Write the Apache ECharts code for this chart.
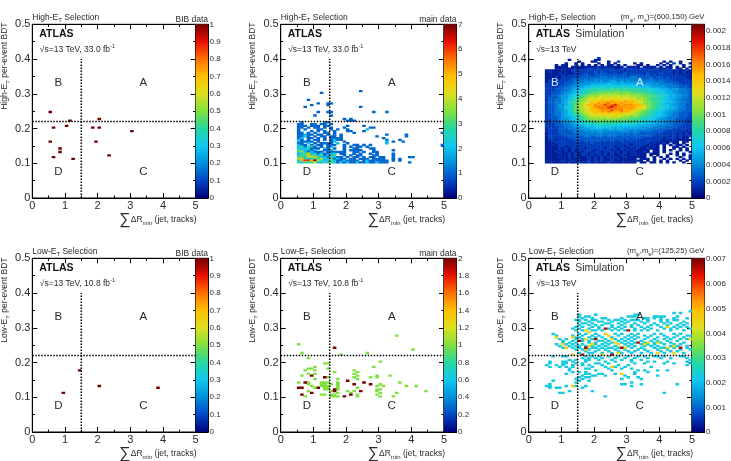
<!DOCTYPE html>
<html><head><meta charset="utf-8">
<script src="https://cdn.jsdelivr.net/npm/echarts@6/dist/echarts.min.js"></script>
<style>html,body{margin:0;padding:0;background:#fff}#c{width:731px;height:461px;filter:blur(.35px)}</style></head>
<body><div id="c"></div>
<script>
// ---------- data (x bins are 0.1 wide starting at 0.5, y bins 0.005 wide) ----------
const bibHigh = [[.55,.2475],[.65,.2025],[.55,.1625],[.85,.1425],[.85,.1325],[.65,.1175],[1.05,.2075],[1.15,.2225],[1.25,.1125],[1.85,.2025],[2.05,.2025],[2.05,.2275],[1.95,.1625],[2.35,.1225],[3.05,.1925]];
const bibLow = [[.95,.1125],[1.45,.1775],[2.05,.1325],[3.85,.1275]];

const mainHighRows = [
[.3075,"..... ..... ..... ....1"],
[.3025,"..... ..1"],
[.2825,"...1"],
[.2725,"..... .1..1 1"],
[.2675,"....1 ....1"],
[.2625,"..1.. ..... ..... ....1"],
[.2475,"..... .1..1 1.... ..... ...1. ..1"],
[.2375,"..... 1.... 1"],
[.2275,"..... ..... ....1 .1"],
[.2225,"..... ..... ..... 111"],
[.2175,".1... ...11"],
[.2125,"11..1 1.11. 1"],
[.2075,"111.1 11.11 ..... 1.... 1"],
[.2025,"11.1. 11.1. 1...1 ..... ..11"],
[.1975,"1.1.. .11.. 1.1.. 1.... .2"],
[.1925,"1...1 .1.1. .1... 11... 1"],
[.1875,"11.1. 1..11 .1... ..1.. ..... ..... ..... ..... ....1"],
[.1825,"11211 .11.1 .1.1. ..... ..... ..1.. ...1."],
[.1775,"1121. 1.11. 11.1. ..... ....1 ..... ...1."],
[.1725,"12.11 .1.1. 1111. ..... ..... .1"],
[.1675,"21.1. 11.1. 1211. ..... ..... ..1.. .1"],
[.1625,"21111 .1... 12..1 ..... ..... ..2.1 ..1"],
[.1575,"11.2. 1.111 1.2.. 1.... ..... ..2"],
[.1525,"211.1 .11.1 11..1 ..11. 1.1.. ..... ..... ..... ....1"],
[.1475,"23123 1.1.1 2...1 .1.11 .1"],
[.1425,"22231 11.21 .1..1 ..11. ..11"],
[.1375,"32221 2..11 2...1 .1111 ...1. ....1"],
[.1325,"34212 111.1 11111 ..11. 1..11"],
[.1275,"22342 21211 22.11 ..1.1 ..1.1 ....1"],
[.1225,"23353 32312 23..1 .1.11 ...11 ....1"],
[.1175,"33244 53221 3211. 1.11. 1.11. 11..1 ....1 1"],
[.1125,"45322 33422 31211 .11.1 11.11 11..1 .1"],
[.1075,"25665 74322 32112 1111. 12111 111.1 .1"],
[.1025,"32333 42232 32121 21121 12112 111.. ....1"]
];

const sigHighRows = [
[.4025,"................2"],
[.3975,".......1.......11"],
[.3925,"..........1...11...1..2.............1.1..1"],
[.3875,"......1..1.1....1..1.1.....1.1.....1.1.2.1..1"],
[.3825,"...1.11..2.1.1.1.1.11.1.1...11.1..1.1.1...1.."],
[.3775,"...1111.1121111121211111.1111.1111.1.11.1.1.1."],
[.3725,"...111111211122221222112222212211221121.11.1.1"],
[.3675,"11111111222222222222222212222222222122212112111"],
[.3625,"12111111222222232322222222222222222222212121111"],
[.3575,"11112121122232232332232232322223222322212121111"],
[.3525,"11111212222333233333333332333323232222222212111"],
[.3475,"11121222223333333443343333443333323323222221111"],
[.3425,"11121222333343444444444444444433433333222222121"],
[.3375,"12122223344444454545554545444544443433322222211"],
[.3325,"12122233344455555555665655555554544443333222221"],
[.3275,"22222233445555666667666666666656555444433322221"],
[.3225,"22222334455566777787777777776666655554444333222"],
[.3175,"22223344556677888888988898888777666555444333222"],
[.3125,"22233344566788999999a9a9a99a9988877666555443332"],
[.3075,"22233445667899a9aabaabbabaa9a9a9888776655444332"],
[.3025,"22333455678899abbbbcbccbbcbbaaa9988776655444333"],
[.2975,"223344567799abcbccddcdcccdcbcbbaa99887665544333"],
[.2925,"22334556789abcdcdeddedededddccbbaa9887665544333"],
[.2875,"23334557899bcdedefeefefeeedecdcbaa9987665544333"],
[.2825,"233445678abcdefefgfffgfefefeddcba99877655443333"],
[.2775,"233445689abcdefgghghihhgihhgfedcbaa987765544333"],
[.2725,"233445689acdefhgihijhihihhhgfecbba9876655443332"],
[.2675,"233455689bcdfhgihikijlihiiihhgdcba9877655443332"],
[.2625,"233455789bcdefhijiikmjiiihhhgfecba9987665543332"],
[.2575,"233455789bcdefghijikjjiihiihffecba9887665443333"],
[.2525,"233445689bcdefhghiihkiijhhhgfdcba98876655443332"],
[.2475,"233445689abceefhhihjihhihhfedcba998766554433332"],
[.2425,"233445678abcdefgfgggfgfgfeedcbba987765544333222"],
[.2375,"22344567899bcdeefffefffedecdcba9987766544333222"],
[.2325,"23334566789abcdddedeededccbcba99887665444333222"],
[.2275,"22334556789abccdcccdcdcbcbbaa988776554443332222"],
[.2225,"223345567889aabbcbbcbbbbaaa9a988776655443332222"],
[.2175,"2233345567789a9aabaaaaa9a9a98887766555443332222"],
[.2125,"22233445567788899999989888887776665554433332222"],
[.2075,"22233344556677788878887777776666555444433322222"],
[.2025,"22223344455566677777667666666555544443333222222"],
[.1975,"12223334445555666656656655555554444333322222211"],
[.1925,"22223333444455555555555555454444433332222221222"],
[.1875,"12223333344444545544444444444333333322222212121"],
[.1825,"12222333334444444444444434343333332222221212121"],
[.1775,"12222233333344344434343333333333322222121211211"],
[.1725,"12222223333333333333333333333322222212221211.11"],
[.1675,"12212222233333333333333323232222222212121111111"],
[.1625,"11222222223232333232322322322222222111211.11.11"],
[.1575,"11122222222222322222222222222222121121.11.1..1."],
[.1525,"11212222222222222222222222122221211.1.1.11.1.11"],
[.1475,"11112212222222222222212212222211121.1..11.1..1."],
[.1425,"11112121222212222212221221212112111.1..1.1.1.1."],
[.1375,"11112121212222212222121212121111.11.1.1..1.1.11"],
[.1325,"11121121212122122122212121211121.11.1...1...1.."],
[.1275,"1111211212122122212121212112111.111...1.1.1...1"],
[.1225,"1111111212122121212121121121111.1.1..1..1.1.1.."],
[.1175,"1111211212111212121212112111111..1.1.1...1..11."],
[.1125,"1111111211211212121121211111.111.1..1.1.1.1.1.."],
[.1075,"111112112111121212112111111111.1.1.1.1...1.1..."],
[.1025,"1111111211211212111211111111.11.11.1.1.1..1..1."]
];

const mainLowOnes = [
[.2775,[30]],[.2525,[0]],[.2375,[35]],[.2275,[1,21]],[.2225,[13]],[.2125,[3]],[.2025,[25]],
[.1975,[8,9]],[.1875,[5,23]],[.1825,[3,4,9]],[.1775,[2,5,17]],[.1725,[11,18]],[.1675,[3,5,17]],
[.1625,[1,18,24,28]],[.1575,[9,17,22,24]],[.1525,[5,12,18]],[.1425,[0,3,7,8,9,12,31]],
[.1375,[3,7,8,10,12,17,25]],[.1325,[4,7,8,9,12,24,26,33,36]],[.1275,[5,8,9,12,18]],
[.1225,[8,9,12,24,25]],[.1175,[3,10,15,17,24,39]],[.1125,[12,16,25,30]],[.1075,[7,8,10,11,18,24]],
[.1025,[2,10,11,12,18,25,29]]
];
const mainLowTwos = [
[.2425,[11]],[.1625,[4]],[.1575,[8]],[.1475,[15]],[.1425,[2,20]],[.1375,[17,22]],[.1275,[0,1,6]],
[.1225,[11]],[.1175,[11,19]],[.1125,[4]],[.1075,[1,16]],[.1025,[14]]
];

const sigLowOnes = [
[.3475,[44]],[.3425,[39,41]],[.3375,[10,15,27,28]],[.3325,[10,12,13,25,26,27,33,34,35,36,40]],
[.3275,[11,14,17,18,23,30,31,33,35,39,43]],[.3225,[9,10,12,14,15,19,21,22,24,26,27,28,31,35,37,39,40]],
[.3175,[10,13,16,17,20,23,25,29,31,35,37,42]],[.3125,[11,12,14,18,19,22,24,27,30,33,36,38,41,43]],
[.3075,[10,13,15,17,20,23,26,28,32,34,37,40,42]],[.3025,[9,11,14,16,20,22,24,26,29,31,35,39,41,43]],
[.2975,[8,10,13,16,19,21,23,27,30,32,36,38,40,44]],[.2925,[9,11,14,15,17,20,22,24,27,29,31,34,38,42]],
[.2825,[2,10,12,15,21,23,26,28,33,35,39,41]],[.2775,[3,8,11,14,16,19,22,25,27,30,32,36,40,43,44]],
[.2725,[9,10,13,15,17,20,24,26,28,31,34,37,39,42]],[.2675,[4,6,9,11,14,18,21,23,25,27,30,33,36,38,41,43]],
[.2625,[5,8,11,13,16,17,19,22,24,26,29,32,34,37,40]],[.2575,[5,7,9,13,15,18,20,23,25,27,30,33,35,38,42]],
[.2525,[3,6,8,11,15,17,19,24,26,29,31,33,36,39,41]],[.2475,[4,7,9,10,12,14,16,18,21,25,27,30,32,34,38,40,43]],
[.2425,[5,8,10,14,15,17,19,20,22,26,29,33,35,36,39,43]],[.2375,[9,11,13,16,18,21,24,28,30,34,37,41,44]],
[.2325,[12,15,19,22,25,27,31,35,38,40]],[.2275,[10,13,14,17,20,23,26,29,32,36,42]],
[.2175,[2,5,6,12,14,16,19,22,25,28,30,33,34,36,41,42]],[.2125,[11,13,15,17,21,24,27,31,35,38,43]],
[.2075,[7,9,12,13,16,20,23,26,29,44]],[.2025,[1,5,6,8,12,18,21,26,31,33,37,43]],
[.1975,[1,5,6,9,11,15,16,19,27,30,36,39,44]],[.1925,[0,3,5,8,11,13,17,22,25,43]],
[.1875,[1,4,6,8,14,18,21,24,32]],[.1825,[7,12,13,19,23,26]],[.1775,[7,15,20,28,30,34,37]],
[.1725,[8,10,12,27,31]],[.1675,[6,12,13,16,17,21,27]],[.1625,[11,14,15,18,24,34]],
[.1575,[10,12,13,25,28]],[.1525,[9,11,23,29]],[.1475,[2,10,13]],[.1425,[9,26]],
[.1375,[1,23,24,29,40]],[.1325,[0,1,6,9,12,26]],[.1275,[1,3,4,11]],[.1175,[7,14]],
[.1125,[4,5,36]],[.1025,[18]]
];
const sigLowTwos = [
[.3025,[37]],[.2925,[12]],[.2875,[13]],[.2825,[18]],[.2775,[19]],[.2725,[3,8]],[.2675,[12,20,44]],
[.2575,[21,31,34]],[.2525,[5,14,22,30]],[.2475,[13,39]],[.2425,[6,24,37]],[.2375,[12]],
[.2275,[22,34,39]],[.2225,[8,17]],[.1875,[20]],[.1675,[23]],[.1325,[8]]
];
const sigLowThrees = [
[.2975,[18]],[.2925,[25]],[.2675,[15]],[.2625,[10]],[.2575,[28]],[.2425,[12,23,41]],[.2225,[11,20]]
];

const xTicks = [0,1,2,3,4,5], yTicks = [0,.1,.2,.3,.4,.5];
const regionLetters = [["B",.8,.3325],["A",3.4,.3325],["D",.8,.075],["C",3.4,.075]];
const cutX = [[1.5,0],[1.5,.4]], cutY = [[0,.22],[5,.22]];
const palette = ["#00007a","#0046c4","#0090dc","#10c8f0","#26d8a0","#80e040","#dce020","#ffc000","#ff7000","#e81000","#760000"];

// ---------- data helpers (no layout here) ----------
const binX = c => +(.55 + .1 * c).toFixed(2);
const fromRows = (rows, unit) => rows.flatMap(([y, s]) => {
  const str = s.replace(/ /g, '').slice(0, 45), out = [];
  for (let i = 0; i < str.length; i++) if (str[i] !== '.') out.push([binX(i), y, parseInt(str[i], 36) * unit]);
  return out;
});
const fromLists = (rows, v) => rows.flatMap(([y, cols]) => cols.map(c => [binX(c), y, v]));
const withValue = (pts, v) => pts.map(p => [p[0], p[1], v]);
const overlay = (...layers) => {
  const m = new Map();
  layers.flat().forEach(p => m.set(p[0] + '_' + p[1], p));
  return [...m.values()];
};

const FONT = '"Liberation Sans", Arial, sans-serif';
const lumi33 = "\u221As=13 TeV, 33.0 fb{sup|-1}", lumi11 = "\u221As=13 TeV, 10.8 fb{sup|-1}", energy = "\u221As=13 TeV";
const panels = [
 {row:0,col:0,sel:"High",tag:"BIB data",cells:withValue(bibHigh,1),max:1,step:.1,lumi:lumi33},
 {row:0,col:1,sel:"High",tag:"main data",cells:fromRows(mainHighRows,1),max:7,step:1,lumi:lumi33},
 {row:0,col:2,sel:"High",tag:"(m{sub|\u03C6}, m{sub|s})=(600,150) GeV",cells:fromRows(sigHighRows,.000088),max:.00208,step:.0002,lumi:energy,sim:true,hideMax:true,light:true},
 {row:1,col:0,sel:"Low",tag:"BIB data",cells:withValue(bibLow,1),max:1,step:.1,lumi:lumi11},
 {row:1,col:1,sel:"Low",tag:"main data",cells:overlay(fromLists(mainLowOnes,1),fromLists(mainLowTwos,2)),max:2,step:.2,lumi:lumi11},
 {row:1,col:2,sel:"Low",tag:"(m{sub|\u03C6},m{sub|s})=(125,25) GeV",cells:overlay(fromLists(sigLowOnes,.00225),fromLists(sigLowTwos,.0045),fromLists(sigLowThrees,.0067)),max:.00704,step:.001,lumi:energy,sim:true,hideMax:true}
];

// ---------- layout ----------
const LEFT = [32.3,280.7,528.7], TOP = [24.3,258.3], W = 163.3, H = 173.7, BARW = 12.5;
const INK = '#2a2a2a';
const richBase = {
  sub:{fontSize:6,verticalAlign:'bottom',fontFamily:FONT,fill:INK,color:INK,lineHeight:13},
  sup:{fontSize:5.5,verticalAlign:'top',fontFamily:FONT,fill:INK,color:INK,lineHeight:13},
  sig:{fontSize:16,fontFamily:FONT,fill:INK,color:INK,lineHeight:13,verticalAlign:'middle'}
};
const cell = (p, api) => {
  const dx = .1, dy = .005;
  const c = api.coord([api.value(0) - dx/2, api.value(1) + dy/2]);
  const s = api.size([dx, dy]);
  return {type:'rect',shape:{x:c[0]-.15,y:c[1]-.3,width:s[0]+.3,height:s[1]+.6},style:{fill:api.visual('color')}};
};
const barRender = (p, api) => {
  const a = api.coord([0, api.value(1)]), b = api.coord([1, 0]);
  return {type:'rect',shape:{x:a[0],y:a[1],width:b[0]-a[0],height:b[1]-a[1]},
    style:{fill:{type:'linear',x:0,y:1,x2:0,y2:0,colorStops:palette.map((c,i)=>({offset:i/(palette.length-1),color:c}))}}};
};

const option = {animation:false,backgroundColor:'#fff',grid:[],xAxis:[],yAxis:[],series:[],visualMap:[],graphic:[]};
const baseAxis = {type:'value',splitLine:{show:false},axisLine:{show:true,onZero:false,lineStyle:{color:'#000',width:1}}};
const tick = {show:true,inside:true,length:5,lineStyle:{color:'#000',width:1}};
const minor = {show:true,splitNumber:2,length:2.5,lineStyle:{color:'#000',width:1}};
const noLabel = {show:false};

panels.forEach(p => {
  const l = LEFT[p.col], t = TOP[p.row];
  const g = option.grid.length;
  option.grid.push({left:l,top:t,width:W,height:H,show:true,borderColor:'#000',borderWidth:1,backgroundColor:'#fff',outerBoundsMode:'none'});
  option.grid.push({left:l+W,top:t,width:BARW,height:H,show:true,borderColor:'#000',borderWidth:1,outerBoundsMode:'none'});
  const xi = option.xAxis.length, yi = option.yAxis.length;
  const xBase = {...baseAxis,gridIndex:g,min:xTicks[0],max:xTicks[5],interval:1,axisTick:tick,minorTick:minor};
  const yBase = {...baseAxis,gridIndex:g,min:yTicks[0],max:yTicks[5],interval:.1,axisTick:tick,minorTick:minor};
  option.xAxis.push({...xBase,position:'bottom',
    axisLabel:{fontFamily:FONT,fontSize:11,color:INK,margin:2},
    name:'{sig|\u2211}\u0394R{sub|min} (jet, tracks)',nameLocation:'middle',nameGap:8,
    nameTextStyle:{fontFamily:FONT,fontSize:8.5,color:INK,verticalAlign:'top',padding:[0,0,0,88],rich:richBase}});
  option.xAxis.push({...xBase,position:'top',axisLabel:noLabel});
  option.yAxis.push({...yBase,position:'left',
    axisLabel:{fontFamily:FONT,fontSize:11,color:INK,margin:2},
    name:p.sel+'-E{sub|T} per-event BDT',nameLocation:'middle',nameGap:21,nameRotate:90,
    nameTextStyle:{fontFamily:FONT,fontSize:8.5,color:INK,verticalAlign:'bottom',padding:[0,0,0,90],rich:richBase}});
  option.yAxis.push({...yBase,position:'right',axisLabel:noLabel});
  // colour bar axes
  option.xAxis.push({...baseAxis,gridIndex:g+1,min:0,max:1,position:'bottom',axisTick:noLabel,axisLabel:noLabel});
  option.yAxis.push({...baseAxis,gridIndex:g+1,min:0,max:p.max,interval:p.step,position:'right',
    axisTick:{show:true,inside:true,length:2.5,lineStyle:{color:'#000',width:1}},
    axisLabel:{fontFamily:FONT,fontSize:8,color:INK,margin:1.5,showMaxLabel:!p.hideMax,
      formatter:v=>String(+v.toFixed(4))}});

  const si = option.series.length;
  option.series.push({type:'custom',xAxisIndex:xi,yAxisIndex:yi,data:p.cells,renderItem:cell,
    encode:{x:0,y:1},clip:true,z:2,silent:true});
  option.visualMap.push({type:'continuous',show:false,seriesIndex:si,dimension:2,min:0,max:p.max,
    inRange:{color:palette},calculable:false});
  option.series.push({type:'custom',xAxisIndex:xi+2,yAxisIndex:yi+2,data:[[0,p.max]],renderItem:barRender,encode:{x:0,y:1},z:2,silent:true});
  [cutX,cutY].forEach(d=>option.series.push({type:'line',xAxisIndex:xi,yAxisIndex:yi,data:d,showSymbol:false,silent:true,z:4,
    lineStyle:{color:'#000',width:1.5,type:[1.5,1.5]}}));
  option.series.push({type:'scatter',xAxisIndex:xi,yAxisIndex:yi,symbolSize:1,itemStyle:{color:'rgba(0,0,0,0)'},silent:true,z:5,
    data:regionLetters.map((r,i)=>({value:[r[1],r[2]],name:r[0],label:{color:(p.light&&i<2)?'#cfe6ff':INK}})),
    label:{show:true,position:'inside',formatter:o=>o.name,fontFamily:FONT,fontSize:11.5,opacity:1}});

  // free text
  const txt = (x,y,text,extra={}) => option.graphic.push({type:'text',x,y,z:10,silent:true,
    style:{text,fontFamily:FONT,fontSize:8.5,fill:INK,verticalAlign:'middle',rich:richBase,...extra}});
  txt(l, t-7, p.sel+'-E{sub|T} Selection');
  if (p.sim) txt(l+W+BARW, t-7, p.tag, {align:'right',fontSize:7.7});
  else txt(l+W+BARW, t-5, p.tag, {align:'right'});
  txt(l+7, t+10, 'ATLAS', {fontSize:10.5,fontWeight:'bold',fill:'#111'});
  if (p.sim) txt(l+46.5, t+10, 'Simulation', {fontSize:10.5,fill:'#333'});
  txt(l+7.5, t+25.5, p.lumi);
});

const chart = echarts.init(document.getElementById('c'),null,{renderer:'canvas'});
chart.setOption(option);
</script></body></html>
